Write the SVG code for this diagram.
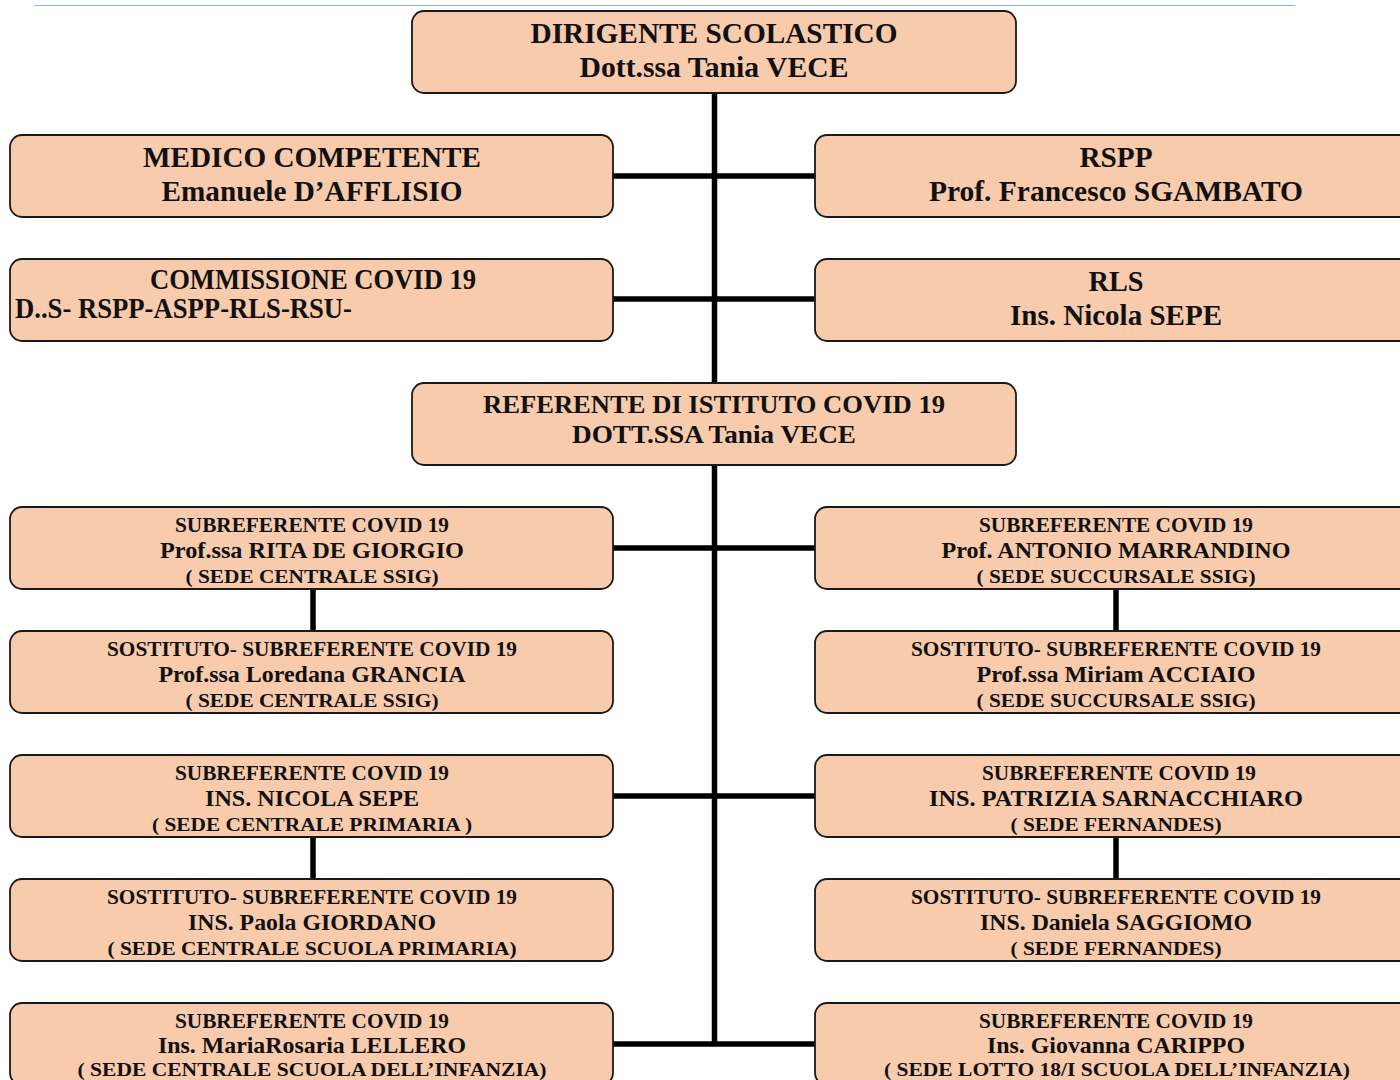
<svg xmlns="http://www.w3.org/2000/svg" width="1400" height="1080" viewBox="0 0 1400 1080">
<style>
.box{fill:#F7CBAC;stroke:#1a1a1a;stroke-width:1.8}
.t{font-family:"Liberation Serif","Times New Roman",serif;font-weight:bold;fill:#111;text-anchor:middle}
.a{font-size:30px}
.b{font-size:20px}
.c{font-size:23px}
.d{font-size:19px}
.ln{stroke:#000;stroke-width:5.5;fill:none}
</style>
<rect width="1400" height="1080" fill="#fff"/>
<line x1="34" y1="5.5" x2="1295" y2="5.5" stroke="#8DB4E3" stroke-width="1.2"/>
<g id="connectors">
<path class="ln" d="M714.5 93V383M714.5 465V1045M613 176H815M613 299H815M613 548H815M613 796H815M613 1044H815M313 589V631M313 837V879M1116 589V631M1116 837V879"/>
</g>
<g id="dirigente">
<rect class="box" x="412" y="11" width="604" height="82" rx="12"/>
<text class="t a" x="714" y="43" textLength="367" lengthAdjust="spacingAndGlyphs">DIRIGENTE SCOLASTICO</text>
<text class="t a" x="714" y="77" textLength="269" lengthAdjust="spacingAndGlyphs">Dott.ssa Tania VECE</text>
</g>
<g id="medico">
<rect class="box" x="10" y="135" width="603" height="82" rx="12"/>
<text class="t a" x="312" y="167" textLength="338" lengthAdjust="spacingAndGlyphs">MEDICO COMPETENTE</text>
<text class="t a" x="312" y="201" textLength="301" lengthAdjust="spacingAndGlyphs">Emanuele D’AFFLISIO</text>
</g>
<g id="rspp">
<rect class="box" x="815" y="135" width="603" height="82" rx="12"/>
<text class="t a" x="1116" y="167" textLength="73" lengthAdjust="spacingAndGlyphs">RSPP</text>
<text class="t a" x="1116" y="201" textLength="374" lengthAdjust="spacingAndGlyphs">Prof. Francesco SGAMBATO</text>
</g>
<g id="commissione">
<rect class="box" x="10" y="259" width="603" height="82" rx="12"/>
<text class="t a" x="313" y="289" textLength="326" lengthAdjust="spacingAndGlyphs">COMMISSIONE COVID 19</text>
<text class="t a" x="15" y="318" style="text-anchor:start" textLength="337" lengthAdjust="spacingAndGlyphs">D..S- RSPP-ASPP-RLS-RSU-</text>
</g>
<g id="rls">
<rect class="box" x="815" y="259" width="603" height="82" rx="12"/>
<text class="t a" x="1116" y="291" textLength="55" lengthAdjust="spacingAndGlyphs">RLS</text>
<text class="t a" x="1116" y="325" textLength="212" lengthAdjust="spacingAndGlyphs">Ins. Nicola SEPE</text>
</g>
<g id="referente">
<rect class="box" x="412" y="383" width="604" height="82" rx="12"/>
<text class="t c" style="font-size:26px" x="714" y="413" textLength="462" lengthAdjust="spacingAndGlyphs">REFERENTE DI ISTITUTO COVID 19</text>
<text class="t c" style="font-size:26px" x="714" y="443" textLength="284" lengthAdjust="spacingAndGlyphs">DOTT.SSA Tania VECE</text>
</g>
<g id="sub-degiorgio">
<rect class="box" x="10" y="507" width="603" height="82" rx="12"/>
<text class="t b" x="312" y="532" textLength="274" lengthAdjust="spacingAndGlyphs">SUBREFERENTE COVID 19</text>
<text class="t c" x="312" y="558" textLength="304" lengthAdjust="spacingAndGlyphs">Prof.ssa RITA DE GIORGIO</text>
<text class="t d" x="312" y="583" textLength="253" lengthAdjust="spacingAndGlyphs">( SEDE CENTRALE SSIG)</text>
</g>
<g id="sub-marrandino">
<rect class="box" x="815" y="507" width="603" height="82" rx="12"/>
<text class="t b" x="1116" y="532" textLength="274" lengthAdjust="spacingAndGlyphs">SUBREFERENTE COVID 19</text>
<text class="t c" x="1116" y="558" textLength="349" lengthAdjust="spacingAndGlyphs">Prof. ANTONIO MARRANDINO</text>
<text class="t d" x="1116" y="583" textLength="279" lengthAdjust="spacingAndGlyphs">( SEDE SUCCURSALE SSIG)</text>
</g>
<g id="sost-grancia">
<rect class="box" x="10" y="631" width="603" height="82" rx="12"/>
<text class="t b" x="312" y="656" textLength="410" lengthAdjust="spacingAndGlyphs">SOSTITUTO- SUBREFERENTE COVID 19</text>
<text class="t c" x="312" y="682" textLength="307" lengthAdjust="spacingAndGlyphs">Prof.ssa Loredana GRANCIA</text>
<text class="t d" x="312" y="707" textLength="253" lengthAdjust="spacingAndGlyphs">( SEDE CENTRALE SSIG)</text>
</g>
<g id="sost-acciaio">
<rect class="box" x="815" y="631" width="603" height="82" rx="12"/>
<text class="t b" x="1116" y="656" textLength="410" lengthAdjust="spacingAndGlyphs">SOSTITUTO- SUBREFERENTE COVID 19</text>
<text class="t c" x="1116" y="682" textLength="279" lengthAdjust="spacingAndGlyphs">Prof.ssa Miriam ACCIAIO</text>
<text class="t d" x="1116" y="707" textLength="279" lengthAdjust="spacingAndGlyphs">( SEDE SUCCURSALE SSIG)</text>
</g>
<g id="sub-sepe">
<rect class="box" x="10" y="755" width="603" height="82" rx="12"/>
<text class="t b" x="312" y="780" textLength="274" lengthAdjust="spacingAndGlyphs">SUBREFERENTE COVID 19</text>
<text class="t c" x="312" y="806" textLength="214" lengthAdjust="spacingAndGlyphs">INS. NICOLA SEPE</text>
<text class="t d" x="312" y="831" textLength="320" lengthAdjust="spacingAndGlyphs">( SEDE CENTRALE PRIMARIA )</text>
</g>
<g id="sub-sarnacchiaro">
<rect class="box" x="815" y="755" width="603" height="82" rx="12"/>
<text class="t b" x="1119" y="780" textLength="274" lengthAdjust="spacingAndGlyphs">SUBREFERENTE COVID 19</text>
<text class="t c" x="1116" y="806" textLength="374" lengthAdjust="spacingAndGlyphs">INS. PATRIZIA SARNACCHIARO</text>
<text class="t d" x="1116" y="831" textLength="211" lengthAdjust="spacingAndGlyphs">( SEDE FERNANDES)</text>
</g>
<g id="sost-giordano">
<rect class="box" x="10" y="879" width="603" height="82" rx="12"/>
<text class="t b" x="312" y="904" textLength="410" lengthAdjust="spacingAndGlyphs">SOSTITUTO- SUBREFERENTE COVID 19</text>
<text class="t c" x="312" y="930" textLength="248" lengthAdjust="spacingAndGlyphs">INS. Paola GIORDANO</text>
<text class="t d" x="312" y="955" textLength="409" lengthAdjust="spacingAndGlyphs">( SEDE CENTRALE SCUOLA PRIMARIA)</text>
</g>
<g id="sost-saggiomo">
<rect class="box" x="815" y="879" width="603" height="82" rx="12"/>
<text class="t b" x="1116" y="904" textLength="410" lengthAdjust="spacingAndGlyphs">SOSTITUTO- SUBREFERENTE COVID 19</text>
<text class="t c" x="1116" y="930" textLength="272" lengthAdjust="spacingAndGlyphs">INS. Daniela SAGGIOMO</text>
<text class="t d" x="1116" y="955" textLength="211" lengthAdjust="spacingAndGlyphs">( SEDE FERNANDES)</text>
</g>
<g id="sub-lellero">
<rect class="box" x="10" y="1003" width="603" height="82" rx="12"/>
<text class="t b" x="312" y="1028" textLength="274" lengthAdjust="spacingAndGlyphs">SUBREFERENTE COVID 19</text>
<text class="t c" x="312" y="1053" textLength="308" lengthAdjust="spacingAndGlyphs">Ins. MariaRosaria LELLERO</text>
<text class="t d" x="312" y="1076" style="font-size:18px" textLength="469" lengthAdjust="spacingAndGlyphs">( SEDE CENTRALE SCUOLA DELL’INFANZIA)</text>
</g>
<g id="sub-carippo">
<rect class="box" x="815" y="1003" width="603" height="82" rx="12"/>
<text class="t b" x="1116" y="1028" textLength="274" lengthAdjust="spacingAndGlyphs">SUBREFERENTE COVID 19</text>
<text class="t c" x="1116" y="1053" textLength="258" lengthAdjust="spacingAndGlyphs">Ins. Giovanna CARIPPO</text>
<text class="t d" x="1117" y="1076" style="font-size:18px" textLength="466" lengthAdjust="spacingAndGlyphs">( SEDE LOTTO 18/I SCUOLA DELL’INFANZIA)</text>
</g>
</svg>
